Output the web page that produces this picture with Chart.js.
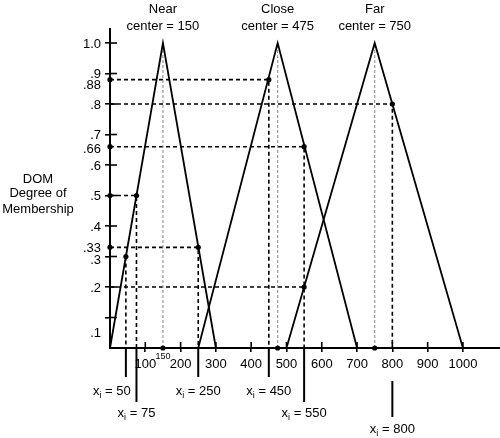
<!DOCTYPE html>
<html>
<head>
<meta charset="utf-8">
<script src="https://cdn.jsdelivr.net/npm/chart.js@4"></script>
<style>
  body { margin: 0; background: #fff; }
</style>
</head>
<body>
<canvas id="chart" width="500" height="438"></canvas>
<script>
// conjuntos fuzzy (triangulos): inicio, centro, fim
const setNames = ['Near', 'Close', 'Far'];
const setStarts = [0, 250, 500];
const setCenters = [150, 475, 750];
const setEnds = [300, 700, 1000];

const xiLabels = ['50', '75', '250', '450', '550', '800'];
const xiValues = [45, 75, 250, 450, 550, 800];
const xiDom = [0.3, 0.5, 0.33, 0.88, 0.66, 0.8];
const xiHoriz = [false, true, true, true, true, true];
const xiAxisDot = [false, true, true, true, true, false];
const xiLevel = [0, 1, 0, 0, 1, 2];

// segunda leitura em 550 (conjunto Far)
const extraX = [550];
const extraDom = [0.2];

// eixos
const xTicks = [100, 200, 300, 400, 500, 600, 700, 800, 900, 1000];
const yTicks = [0.1, 0.2, 0.3, 0.4, 0.5, 0.6, 0.7, 0.8, 0.9, 1.0];
const yTickLabels = ['.1', '.2', '.3', '.4', '.5', '.6', '.7', '.8', '.9', '1.0'];
const yMarks = [0.88, 0.66, 0.33];
const yMarkLabels = ['.88', '.66', '.33'];

const FONT = '"Liberation Sans", Arial, Helvetica, sans-serif';

const datasets = [];

// triangulos
setNames.forEach((name, i) => {
  datasets.push({
    label: name,
    data: [{ x: setStarts[i], y: 0 }, { x: setCenters[i], y: 1 }, { x: setEnds[i], y: 0 }],
    borderColor: '#000', borderWidth: 1.8, pointRadius: 0, clip: false
  });
  // linha pontilhada cinza do centro
  datasets.push({
    data: [{ x: setCenters[i], y: 0 }, { x: setCenters[i], y: 1 }],
    borderColor: '#9a9a9a', borderWidth: 1.2, borderDash: [3, 2],
    pointRadius: [2.6, 0], pointBackgroundColor: '#000', pointBorderWidth: 0, clip: false
  });
});

// linhas tracejadas das leituras
xiValues.forEach((x, i) => {
  const y = xiDom[i];
  const pts = [];
  const radii = [];
  if (xiHoriz[i]) { pts.push({ x: 0, y: y }); radii.push(xiAxisDot[i] ? 2.6 : 0); }
  pts.push({ x: x, y: y }); radii.push(2.6);
  pts.push({ x: x, y: 0 }); radii.push(0);
  datasets.push({
    data: pts, borderColor: '#000', borderWidth: 1.6, borderDash: [4, 3],
    pointRadius: radii, pointBackgroundColor: '#000', pointBorderWidth: 0, clip: false
  });
});
extraX.forEach((x, i) => {
  datasets.push({
    data: [{ x: 0, y: extraDom[i] }, { x: x, y: extraDom[i] }],
    borderColor: '#000', borderWidth: 1.6, borderDash: [4, 3],
    pointRadius: [0, 2.6], pointBackgroundColor: '#000', pointBorderWidth: 0, clip: false
  });
});

// texto "x" com subscrito "i"
function drawXi(ctx, value, cx, baseline) {
  ctx.font = '13px ' + FONT;
  const wx = ctx.measureText('x').width;
  const rest = ' = ' + value;
  const wr = ctx.measureText(rest).width;
  ctx.font = '9px ' + FONT;
  const wi = ctx.measureText('i').width;
  let left = cx - (wx + wi + wr) / 2;
  ctx.textAlign = 'left';
  ctx.textBaseline = 'alphabetic';
  ctx.font = '13px ' + FONT;
  ctx.fillText('x', left, baseline);
  ctx.font = '9px ' + FONT;
  ctx.fillText('i', left + wx, baseline + 3);
  ctx.font = '13px ' + FONT;
  ctx.fillText(rest, left + wx + wi, baseline);
}

const decor = {
  id: 'decor',
  afterDraw(chart) {
    const ctx = chart.ctx;
    const xs = chart.scales.x, ys = chart.scales.y;
    const area = chart.chartArea;
    ctx.save();
    ctx.strokeStyle = '#000';
    ctx.fillStyle = '#000';
    ctx.lineWidth = 1.6;

    // parte interna das marcas dos eixos
    xTicks.forEach(v => {
      const px = xs.getPixelForValue(v);
      ctx.beginPath(); ctx.moveTo(px, area.bottom); ctx.lineTo(px, area.bottom - 6); ctx.stroke();
    });
    yTicks.forEach(v => {
      const py = ys.getPixelForValue(v);
      ctx.beginPath(); ctx.moveTo(area.left, py); ctx.lineTo(area.left + 7, py); ctx.stroke();
    });

    // rotulos do eixo y
    const nudge = { '.88': 5, '.66': 2, '.3': 3, '.1': 15 };
    ctx.font = '13px ' + FONT;
    ctx.textAlign = 'right';
    ctx.textBaseline = 'middle';
    yTicks.concat(yMarks).forEach((v, i) => {
      const lab = i < yTicks.length ? yTickLabels[i] : yMarkLabels[i - yTicks.length];
      ctx.fillText(lab, area.left - 9, ys.getPixelForValue(v) + 1 + (nudge[lab] || 0));
    });

    // titulos dos conjuntos
    ctx.textAlign = 'center';
    ctx.textBaseline = 'alphabetic';
    setNames.forEach((name, i) => {
      const px = xs.getPixelForValue(setCenters[i]);
      ctx.fillText(name, px, 13);
      ctx.fillText('center = ' + setCenters[i], px, 29.5);
    });

    // titulo do eixo y
    ctx.fillText('DOM', 38, 183);
    ctx.fillText('Degree of', 38, 197);
    ctx.fillText('Membership', 38, 213);

    // pequeno 150
    ctx.font = '9px ' + FONT;
    ctx.fillText('150', xs.getPixelForValue(150), 359);

    // marcadores xi abaixo do eixo
    const lineTop = [area.bottom, area.bottom, 381];
    const lineBottom = [377, 402, 417];
    const textBase = [395, 417, 433];
    ctx.lineWidth = 2;
    xiValues.forEach((x, i) => {
      const px = xs.getPixelForValue(x);
      const lv = xiLevel[i];
      ctx.beginPath(); ctx.moveTo(px, lineTop[lv]); ctx.lineTo(px, lineBottom[lv]); ctx.stroke();
      const shift = i === 0 ? -14 : 0;
      drawXi(ctx, xiLabels[i], px + shift, textBase[lv]);
    });
    ctx.restore();
  }
};

new Chart(document.getElementById('chart').getContext('2d'), {
  type: 'line',
  data: { datasets: datasets },
  options: {
    responsive: false,
    devicePixelRatio: 1,
    animation: false,
    layout: { autoPadding: false, padding: { top: 29, left: 0, right: 0, bottom: 0 } },
    plugins: { legend: { display: false }, tooltip: { enabled: false } },
    elements: { line: { tension: 0, fill: false } },
    scales: {
      x: {
        type: 'linear', min: 0, max: 1105,
        afterBuildTicks: s => { s.ticks = xTicks.map(v => ({ value: v })); },
        afterFit: s => { s.height = 90; },
        grid: { drawOnChartArea: false, tickLength: 4, tickColor: '#000', lineWidth: 1.6 },
        border: { color: '#000', width: 2 },
        ticks: { color: '#000', font: { family: FONT, size: 13 }, padding: 5, autoSkip: false, maxRotation: 0,
                 callback: v => String(v) }
      },
      y: {
        type: 'linear', min: 0, max: 1.046,
        afterBuildTicks: s => { s.ticks = yTicks.map(v => ({ value: v })); },
        afterFit: s => { s.width = 110; },
        grid: { drawOnChartArea: false, tickLength: 5, tickColor: '#000', lineWidth: 1.6 },
        border: { color: '#000', width: 2 },
        ticks: { display: false }
      }
    }
  },
  plugins: [decor]
});
</script>
</body>
</html>
